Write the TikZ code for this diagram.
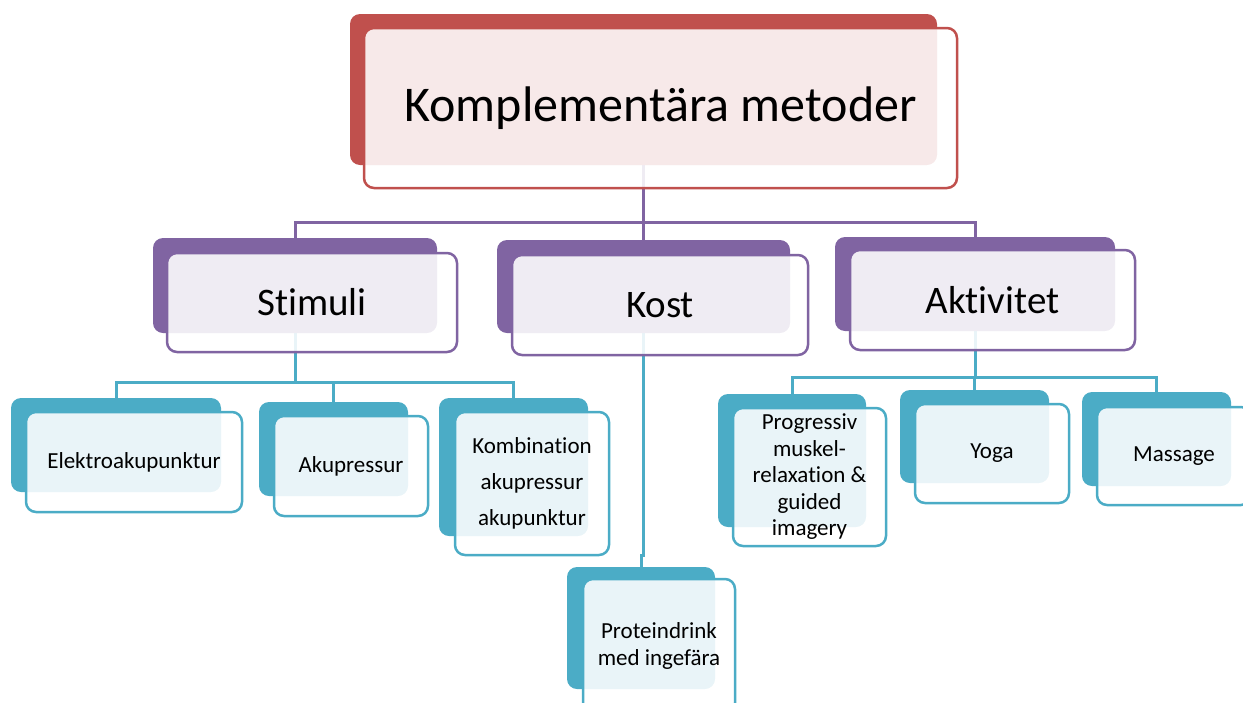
\documentclass[tikz,border=0pt]{standalone}
\usepackage{fontspec}
\setmainfont{Carlito}[Ligatures=NoCommon]
\usetikzlibrary{backgrounds}
\definecolor{methodred}{HTML}{C0504D}
\definecolor{grouppurple}{HTML}{8064A2}
\definecolor{itemteal}{HTML}{4BACC6}
\tikzset{
  backbox/.style={fill=#1, rounded corners=10pt, inner sep=0pt},
  frontbox/.style={draw=#1, line width=2.5pt, fill=white, fill opacity=0.88, text opacity=1,
    rounded corners=10pt, inner sep=0pt, align=center},
  link/.style={draw=#1, line width=3pt},
  bigtext/.style={font=\fontsize{50}{56}\selectfont},
  midtext/.style={font=\fontsize{39}{44}\selectfont},
  smalltext/.style={font=\fontsize{23}{26.5}\selectfont},
}
\begin{document}
\begin{tikzpicture}[x=1pt,y=-1pt]
            \useasboundingbox (0,0) rectangle (1243,702);
            % top
            \node[backbox=methodred, minimum width=587, minimum height=151] (main-b) at (643.5,89.5) {};
            \node[frontbox=methodred, minimum width=593, minimum height=160, bigtext] (main) at (660.5,108) {Komplementära metoder};

            % groups
            \node[backbox=grouppurple, minimum width=284, minimum height=95] (stimuli-b) at (295,285.5) {};
            \node[frontbox=grouppurple, minimum width=290, minimum height=99, midtext] (stimuli) at (312,302.5) {Stimuli};
            \node[backbox=grouppurple, minimum width=293, minimum height=93] (kost-b) at (643.5,286.5) {};
            \node[frontbox=grouppurple, minimum width=296, minimum height=100, midtext] (kost) at (660,305) {Kost};
            \node[backbox=grouppurple, minimum width=280, minimum height=94] (aktivitet-b) at (975,284) {};
            \node[frontbox=grouppurple, minimum width=285, minimum height=100, midtext] (aktivitet) at (992.5,300) {Aktivitet};

            % items
            \node[backbox=itemteal, minimum width=210, minimum height=94] (elektro-b) at (116,445) {};
            \node[frontbox=itemteal, minimum width=216, minimum height=100, smalltext] (elektro) at (134,462) {Elektroakupunktur};
            \node[backbox=itemteal, minimum width=149, minimum height=94] (akupressur-b) at (333.5,449) {};
            \node[frontbox=itemteal, minimum width=154, minimum height=100, smalltext] (akupressur) at (351,466) {Akupressur};
            \node[backbox=itemteal, minimum width=149, minimum height=138] (kombination-b) at (513.5,467) {};
            \node[frontbox=itemteal, minimum width=154, minimum height=143, font=\fontsize{23}{36}\selectfont] (kombination) at (532,483.5) {Kombination\\akupressur\\akupunktur};
            \node[backbox=itemteal, minimum width=148, minimum height=122] (protein-b) at (641,628) {};
            \node[frontbox=itemteal, minimum width=152, minimum height=134, smalltext] (protein) at (659,646) {Proteindrink\\med ingefära};
            \node[backbox=itemteal, minimum width=148, minimum height=133] (progressiv-b) at (792,460.5) {};
            \node[frontbox=itemteal, minimum width=153, minimum height=138, smalltext] (progressiv) at (809.5,477) {Progressiv\\muskel-\\relaxation \&\\guided\\imagery};
            \node[backbox=itemteal, minimum width=149, minimum height=93] (yoga-b) at (974.5,436.5) {};
            \node[frontbox=itemteal, minimum width=154, minimum height=99, smalltext] (yoga) at (992,453.5) {Yoga};
            \node[backbox=itemteal, minimum width=149, minimum height=94] (massage-b) at (1156.5,439) {};
            \node[frontbox=itemteal, minimum width=154, minimum height=98, smalltext] (massage) at (1174,456) {Massage};

            \begin{scope}[on background layer]
                \foreach \g in {stimuli,kost,aktivitet} {
                    \draw[link=grouppurple] (main-b.south) -- ++(0,57) -| (\g-b.north);
                }
                \foreach \i in {elektro,akupressur,kombination} {
                    \draw[link=itemteal] (stimuli-b.south) -- ++(0,49) -| (\i-b.north);
                }
                \draw[link=itemteal] (kost-b.south) -- ++(0,222) -| (protein-b.north);
                \foreach \i in {progressiv,yoga,massage} {
                    \draw[link=itemteal] (aktivitet-b.south) -- ++(0,46) -| (\i-b.north);
                }
            \end{scope}
        \end{tikzpicture}
\end{document}
